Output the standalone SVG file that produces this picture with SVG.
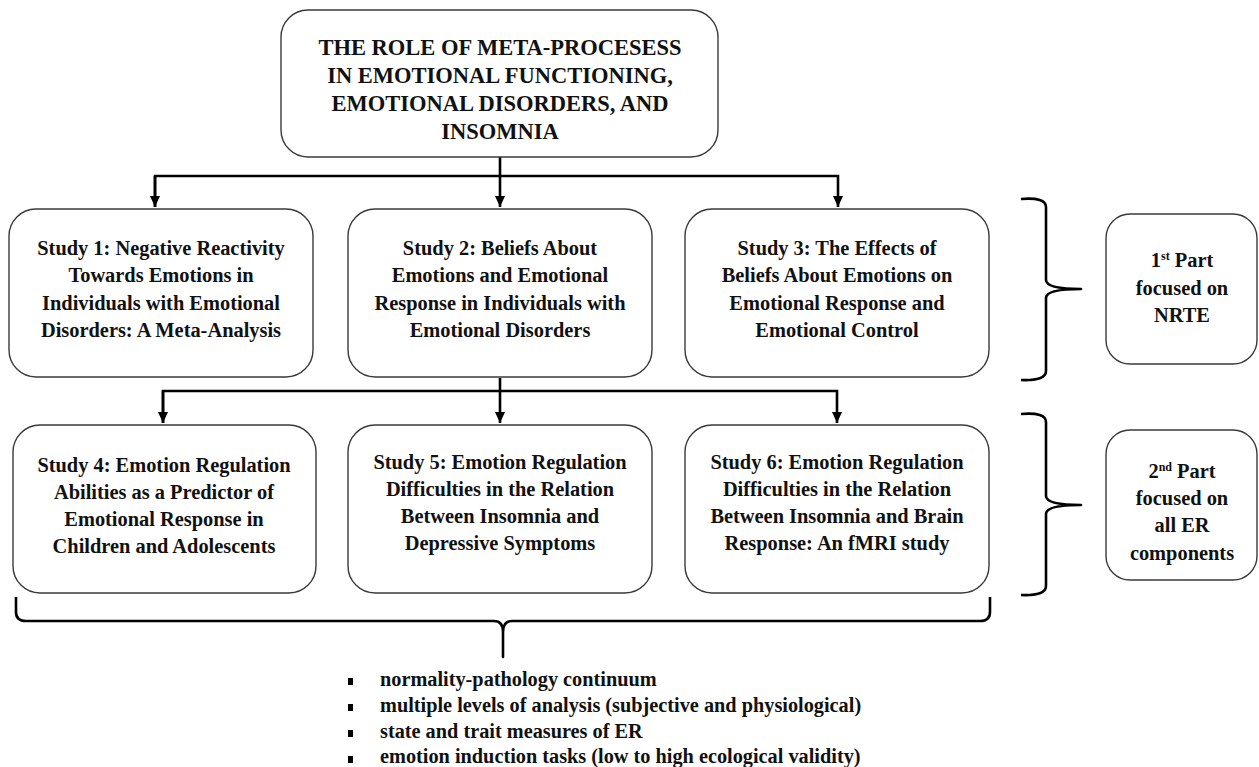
<svg xmlns="http://www.w3.org/2000/svg" width="1259" height="767" viewBox="0 0 1259 767">
  <style>
    .box { fill: #ffffff; stroke: #3a3a3a; stroke-width: 1.4; }
    .wire { fill: none; stroke: #000000; stroke-width: 2.6; }
    .brace { fill: none; stroke: #000000; stroke-width: 2.6; stroke-linejoin: round; }
    text { font-family: "Liberation Serif", "Times New Roman", serif; font-weight: bold; fill: #111111; }
    .title { font-size: 22.5px; text-anchor: middle; }
    .lbl { font-size: 20.4px; text-anchor: middle; }
    .bullet { font-size: 20.3px; }
    .sup { font-size: 12px; }
  </style>
  <defs>
    <marker id="arrow" markerUnits="userSpaceOnUse" markerWidth="12" markerHeight="12" viewBox="0 0 12 12" refX="11" refY="6" orient="auto">
      <path d="M0,1 L11,6 L0,11 Z" fill="#000000"/>
    </marker>
  </defs>

  <rect width="1259" height="767" fill="#ffffff"/>

  <!-- connectors -->
  <g id="connectors">
    <path class="wire" d="M500,157 V207" marker-end="url(#arrow)"/>
    <path class="wire" d="M155,207 V176 H838 V207" marker-end="url(#arrow)"/>
    <path class="wire" d="M155,176 V207" marker-end="url(#arrow)"/>
    <path class="wire" d="M500,378 V423" marker-end="url(#arrow)"/>
    <path class="wire" d="M163,423 V391 H837 V423" marker-end="url(#arrow)"/>
    <path class="wire" d="M163,391 V423" marker-end="url(#arrow)"/>
  </g>

  <!-- title -->
  <g id="title">
    <rect class="box" x="281" y="10" width="437" height="147" rx="27"/>
    <text class="title" x="500" y="55">THE ROLE OF META-PROCESESS</text>
    <text class="title" x="500" y="83">IN EMOTIONAL FUNCTIONING,</text>
    <text class="title" x="500" y="110.5">EMOTIONAL DISORDERS, AND</text>
    <text class="title" x="500" y="139">INSOMNIA</text>
  </g>

  <!-- first row of studies -->
  <g id="study1">
    <rect class="box" x="9" y="209" width="304" height="168" rx="27"/>
    <text class="lbl" x="161" y="255">Study 1: Negative Reactivity</text>
    <text class="lbl" x="161" y="282">Towards Emotions in</text>
    <text class="lbl" x="161" y="309.5">Individuals with Emotional</text>
    <text class="lbl" x="161" y="337">Disorders: A Meta-Analysis</text>
  </g>
  <g id="study2">
    <rect class="box" x="348" y="209" width="304" height="168" rx="27"/>
    <text class="lbl" x="500" y="255">Study 2: Beliefs About</text>
    <text class="lbl" x="500" y="282">Emotions and Emotional</text>
    <text class="lbl" x="500" y="309.5">Response in Individuals with</text>
    <text class="lbl" x="500" y="337">Emotional Disorders</text>
  </g>
  <g id="study3">
    <rect class="box" x="685" y="209" width="304" height="168" rx="27"/>
    <text class="lbl" x="837" y="255">Study 3: The Effects of</text>
    <text class="lbl" x="837" y="282">Beliefs About Emotions on</text>
    <text class="lbl" x="837" y="309.5">Emotional Response and</text>
    <text class="lbl" x="837" y="337">Emotional Control</text>
  </g>

  <!-- second row of studies -->
  <g id="study4">
    <rect class="box" x="13" y="425" width="303" height="168" rx="27"/>
    <text class="lbl" x="164" y="472">Study 4: Emotion Regulation</text>
    <text class="lbl" x="164" y="499">Abilities as a Predictor of</text>
    <text class="lbl" x="164" y="526">Emotional Response in</text>
    <text class="lbl" x="164" y="553">Children and Adolescents</text>
  </g>
  <g id="study5">
    <rect class="box" x="348" y="425" width="304" height="168" rx="27"/>
    <text class="lbl" x="500" y="469">Study 5: Emotion Regulation</text>
    <text class="lbl" x="500" y="496">Difficulties in the Relation</text>
    <text class="lbl" x="500" y="523">Between Insomnia and</text>
    <text class="lbl" x="500" y="550">Depressive Symptoms</text>
  </g>
  <g id="study6">
    <rect class="box" x="685" y="425" width="304" height="168" rx="27"/>
    <text class="lbl" x="837" y="469">Study 6: Emotion Regulation</text>
    <text class="lbl" x="837" y="496">Difficulties in the Relation</text>
    <text class="lbl" x="837" y="523">Between Insomnia and Brain</text>
    <text class="lbl" x="837" y="550">Response: An fMRI study</text>
  </g>

  <!-- part labels -->
  <g id="part1">
    <rect class="box" x="1106" y="214" width="151" height="150" rx="24"/>
    <text class="lbl" x="1182" y="267">1<tspan class="sup" dy="-7">st</tspan><tspan dy="7"> Part</tspan></text>
    <text class="lbl" x="1182" y="295">focused on</text>
    <text class="lbl" x="1182" y="322">NRTE</text>
  </g>
  <g id="part2">
    <rect class="box" x="1106" y="430" width="151" height="150" rx="24"/>
    <text class="lbl" x="1182" y="478">2<tspan class="sup" dy="-7">nd</tspan><tspan dy="7"> Part</tspan></text>
    <text class="lbl" x="1182" y="505">focused on</text>
    <text class="lbl" x="1182" y="532">all ER</text>
    <text class="lbl" x="1182" y="560">components</text>
  </g>

  <!-- braces grouping the rows -->
  <g id="braces">
    <path class="brace" d="M1021,199 Q1046,197 1046,207 V280 Q1046,289 1081,289 Q1046,289 1046,298 V371 Q1046,381 1021,380"/>
    <path class="brace" d="M1021,414 Q1046,412 1046,422 V496 Q1046,505 1081,505 Q1046,505 1046,514 V586 Q1046,596 1021,595"/>
    <path class="brace" d="M16,597 V612 Q16,621 26,621 H494 Q503,621 503,632 V657 V632 Q503,621 512,621 H980 Q990,621 990,612 V597"/>
  </g>

  <!-- shared features of the studies -->
  <g id="features">
    <rect x="348" y="678" width="5" height="7" fill="#000000"/>
    <rect x="348" y="704" width="5" height="7" fill="#000000"/>
    <rect x="348" y="730" width="5" height="7" fill="#000000"/>
    <rect x="348" y="756" width="5" height="7" fill="#000000"/>
    <text class="bullet" x="380" y="686">normality-pathology continuum</text>
    <text class="bullet" x="380" y="712">multiple levels of analysis (subjective and physiological)</text>
    <text class="bullet" x="380" y="738">state and trait measures of ER</text>
    <text class="bullet" x="380" y="763">emotion induction tasks (low to high ecological validity)</text>
  </g>
</svg>
